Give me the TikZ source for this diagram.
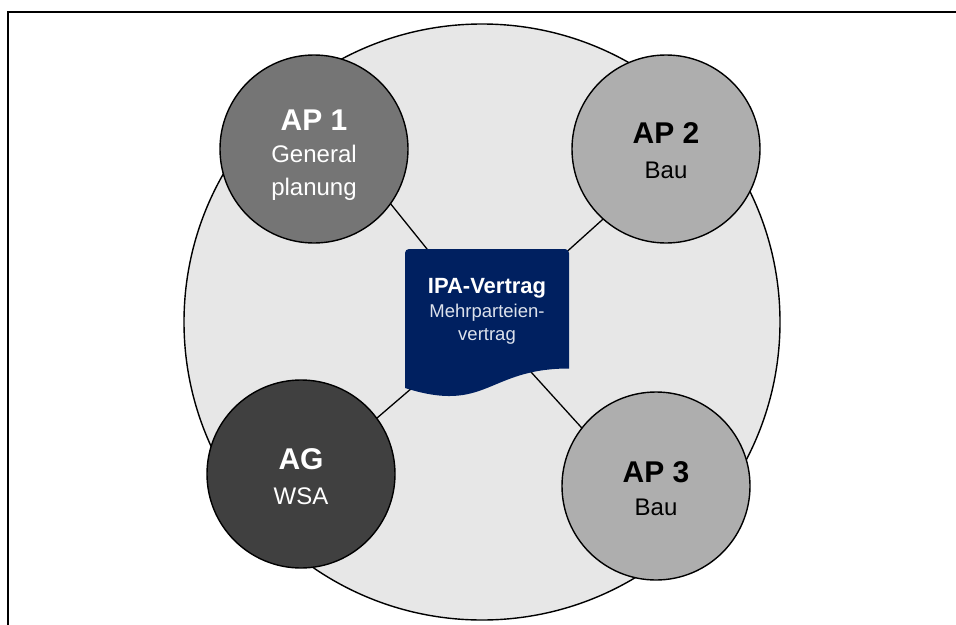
\documentclass[tikz,border=0pt]{standalone}
\usepackage{fontspec}
\setmainfont{Liberation Sans}
\definecolor{bigfill}{HTML}{E7E7E7}
\definecolor{apdark}{HTML}{757575}
\definecolor{aplight}{HTML}{AEAEAE}
\definecolor{agcol}{HTML}{404040}
\definecolor{navy}{HTML}{002060}
\definecolor{subwhite}{HTML}{DDE2EC}
\pgfdeclarelayer{bg}
\pgfdeclarelayer{mid}
\pgfsetlayers{bg,mid,main}
\begin{document}
\begin{tikzpicture}[x=1pt,y=-1pt,
  party/.style={circle, draw=black, line width=1.4pt, minimum size=188pt, inner sep=0pt},
  ttl/.style={anchor=base, inner sep=0pt, font=\fontsize{30}{30}\selectfont\bfseries},
  sub/.style={anchor=base, inner sep=0pt, font=\fontsize{24}{24}\selectfont},
  dttl/.style={anchor=base, inner sep=0pt, text=white, font=\fontsize{22}{22}\selectfont\bfseries},
  dsub/.style={anchor=base, inner sep=0pt, text=subwhite, font=\fontsize{18.5}{18.5}\selectfont},
  link/.style={draw=black, line width=1.3pt}]
\useasboundingbox (0,0) rectangle (956,624);
\clip (0,0) rectangle (956,624);
% frame (top and left edges visible)
\draw[line width=2pt] (8,630) -- (8,12) -- (960,12);
% big ring
\begin{pgfonlayer}{bg}
  \node[circle, draw=black, line width=1.4pt, fill=bigfill, minimum size=596pt, inner sep=0pt] (ring) at (482,322) {};
\end{pgfonlayer}
% document shape
\fill[navy] (405,388) [rounded corners=4pt] -- (405,249) -- (569,249) [sharp corners] -- (569,368.5)
  .. controls (487,368.5) and (487,414) .. (405,388) -- cycle;
\node[minimum width=164pt, minimum height=149pt, inner sep=0pt] (doc) at (487,323.5) {};
\node[dttl] (doct) at (487,293) {IPA-Vertrag};
\node[dsub] (docs1) at (487,317) {Mehrparteien-};
\node[dsub] (docs2) at (487,340) {vertrag};
% party circles
\node[party, fill=apdark] (ap1) at (314,149) {};
\node[ttl, text=white] (ap1t) at (314,130) {AP 1};
\node[sub, text=white] (ap1s1) at (314,162) {General};
\node[sub, text=white] (ap1s2) at (314,195) {planung};
\node[party, fill=aplight] (ap2) at (666,149) {};
\node[ttl, text=black] (ap2t) at (666,143) {AP 2};
\node[sub, text=black] (ap2s) at (666,178) {Bau};
\node[party, fill=agcol] (ag) at (301,474) {};
\node[ttl, text=white] (agt) at (301,469) {AG};
\node[sub, text=white] (ags) at (301,504) {WSA};
\node[party, fill=aplight] (ap3) at (656,486) {};
\node[ttl, text=black] (ap3t) at (656,482) {AP 3};
\node[sub, text=black] (ap3s) at (656,515) {Bau};
% connector ends (hidden inside the circles)
\coordinate (ap1end) at (332,131);
\coordinate (ap2end) at (671,158);
\coordinate (agend) at (313,473);
\coordinate (ap3end) at (639,491);
% connectors
\begin{pgfonlayer}{mid}
  \draw[link] (doc.center) -- (ap1end);
  \draw[link] (doc.center) -- (ap2end);
  \draw[link] (doc.center) -- (agend);
  \draw[link] (doc.center) -- (ap3end);
\end{pgfonlayer}
\end{tikzpicture}
\end{document}
